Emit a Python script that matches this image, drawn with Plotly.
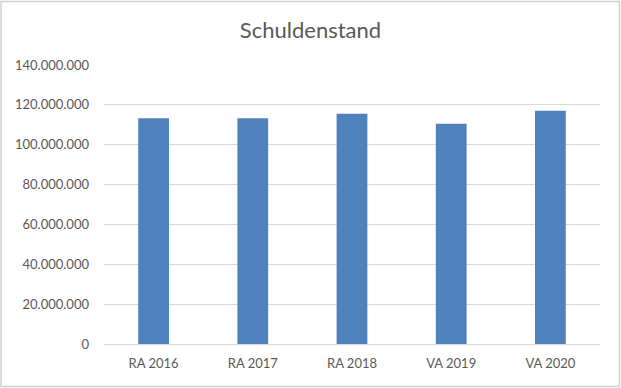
import plotly.graph_objects as go

categories = ["RA 2016", "RA 2017", "RA 2018", "VA 2019", "VA 2020"]
values = [113300000, 113300000, 115500000, 110500000, 117100000]
y_ticks = [0, 20000000, 40000000, 60000000, 80000000, 100000000, 120000000, 140000000]

W, H = 621, 388
ml, mr, mt, mb = 104, 21, 65, 44
pw, ph = W - ml - mr, H - mt - mb

fig = go.Figure(go.Bar(x=categories, y=values, marker_color="#4F81BD", marker_line_width=0))
fig.update_layout(
    width=W, height=H,
    margin=dict(l=ml, r=mr, t=mt, b=mb),
    paper_bgcolor="white", plot_bgcolor="white",
    separators=",.",
    bargap=0.69,
    showlegend=False,
    font=dict(family="Lato, Open Sans, sans-serif", color="#595959", size=13),
    title=dict(text="Schuldenstand", x=0.5, xanchor="center", y=1 - 30 / H, yanchor="middle",
               font=dict(size=22, color="#595959")),
    xaxis=dict(showgrid=False, showline=True, linecolor="#D9D9D9", linewidth=1, ticks="",
               ticklabelstandoff=7, tickfont=dict(size=13, color="#595959")),
    yaxis=dict(range=[0, 140000000], tickvals=y_ticks, tickformat=",d", showgrid=True,
               gridcolor="#D9D9D9", gridwidth=1, zeroline=False, showline=False, ticks="",
               ticklabelstandoff=14, tickfont=dict(size=13, color="#595959")),
    shapes=[dict(type="rect", xref="paper", yref="paper",
                 x0=-(ml - 1) / pw, x1=1 + (mr - 1.5) / pw,
                 y0=-(mb - 1.5) / ph, y1=1 + (mt - 1.5) / ph,
                 line=dict(color="#D0D0D0", width=1.5), fillcolor="rgba(0,0,0,0)")],
)
fig.write_html("out.html", config={"displayModeBar": False},
               post_script="document.body.style.margin='0';document.body.style.overflow='hidden';")
